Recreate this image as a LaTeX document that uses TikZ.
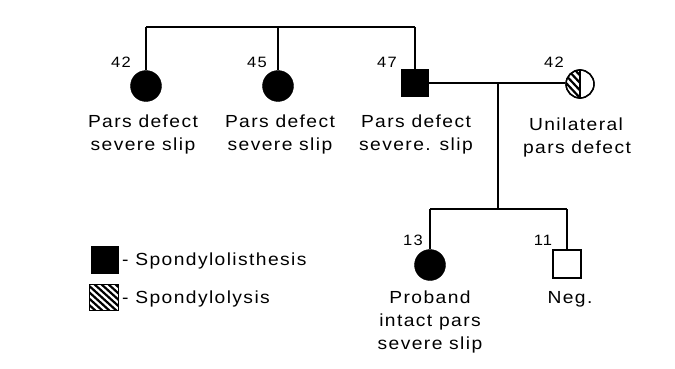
\documentclass[tikz,border=0pt]{standalone}
\usepackage{fontspec}
\setmainfont{Liberation Sans}[FakeStretch=1.1,LetterSpace=8]
\begin{document}
\begin{tikzpicture}[x=1pt,y=-1pt,
  ln/.style={line width=1.4pt},
  lbl/.style={anchor=base,inner sep=0pt,font=\fontsize{17.5}{20}\selectfont},
  age/.style={anchor=base,inner sep=0pt,font=\fontsize{15}{17}\selectfont},
  fcirc/.style={circle,fill=black,draw=black,inner sep=0pt,minimum size=31pt},
  sqbox/.style={rectangle,draw=black,line width=1.4pt,inner sep=0pt,minimum size=27pt}]
\useasboundingbox (0,0) rectangle (675,369);
% generation 1 top line
\coordinate (t1) at (146,27);
\coordinate (t2) at (278,27);
\coordinate (t3) at (415,27);
\node[fcirc] (c1) at (146,86) {};
\node[fcirc] (c2) at (278,86) {};
\node[sqbox,fill=black] (s47) at (415,83) {};
\node[circle,draw=black,line width=1.4pt,inner sep=0pt,minimum size=28pt] (h42) at (580,84) {};
\begin{scope}
\clip (h42.center) ++(0,-15) rectangle ++(-15,30);
\clip (h42) circle (14);
\foreach \d in {-20,-13,...,30}
  \draw[line width=2.2pt] (566+\d,69) -- (594+\d,99);
\end{scope}
\draw[ln] (h42) circle (14);
\draw[ln] (h42.north) -- (h42.south);
\draw[ln] (t1) -- (t3);
\draw[ln] (t1) -- (c1.north);
\draw[ln] (t2) -- (c2.north);
\draw[ln] (t3) -- (s47.north);
\draw[ln] (s47.east) -- (s47.east -| h42.west);
% children
\coordinate (m) at (498,83);
\coordinate (sb) at (498,209);
\coordinate (sl) at (430,209);
\coordinate (sr) at (567,209);
\node[fcirc] (p13) at (430,265) {};
\node[sqbox,minimum size=28pt] (s11) at (567,264) {};
\draw[ln] (m) -- (sb);
\draw[ln] (sl) -- (sr);
\draw[ln] (sl) -- (p13.north);
\draw[ln] (sr) -- (s11.north);
% ages
\node[age] (a1) at (121,67) {42};
\node[age] (a2) at (257,67) {45};
\node[age] (a3) at (387,67) {47};
\node[age] (a4) at (554,67) {42};
\node[age] (a5) at (413,245) {13};
\node[age] (a6) at (543,245) {11};
% labels
\node[lbl] (l1a) at (143,127) {Pars defect};
\node[lbl] (l1b) at (143,150) {severe slip};
\node[lbl] (l2a) at (280,127) {Pars defect};
\node[lbl] (l2b) at (280,150) {severe slip};
\node[lbl] (l3a) at (416,127) {Pars defect};
\node[lbl] (l3b) at (416,150) {severe. slip};
\node[lbl] (l4a) at (576,130) {Unilateral};
\node[lbl] (l4b) at (577,153) {pars defect};
\node[lbl] (l5a) at (430,303) {Proband};
\node[lbl] (l5b) at (430,326) {intact pars};
\node[lbl] (l5c) at (430,349) {severe slip};
\node[lbl] (l6) at (570,303) {Neg.};
% legend
\node[rectangle,fill=black,inner sep=0pt,minimum size=28pt] (k1) at (104.5,260) {};
\node[lbl,anchor=base west] (k1t) at (122,265) {- Spondylolisthesis};
\node[rectangle,inner sep=0pt,minimum width=28pt,minimum height=25pt] (k2) at (104,297.5) {};
\begin{scope}
\clip (k2.south west) rectangle (k2.north east);
\foreach \d in {-30,-23,...,30}
  \draw[line width=2.2pt] (88+\d,283) -- (120+\d,312);
\end{scope}
\draw[line width=1pt] (k2.south west) rectangle (k2.north east);
\node[lbl,anchor=base west] (k2t) at (122,303) {- Spondylolysis};
\end{tikzpicture}
\end{document}
